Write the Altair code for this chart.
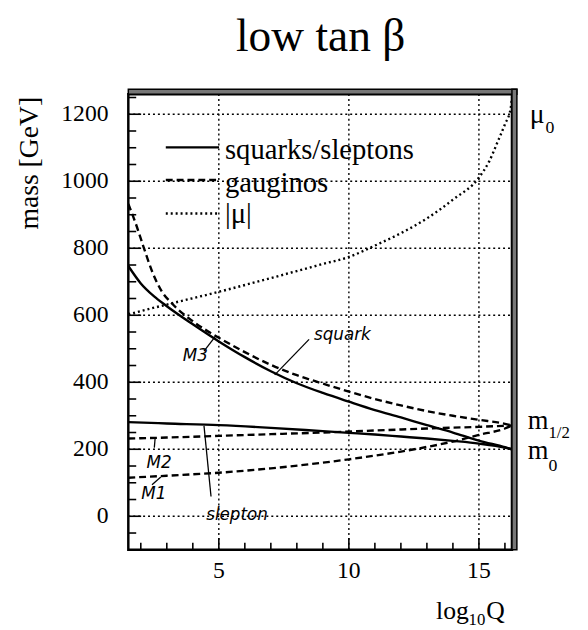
import altair as alt
import pandas as pd

# ---------------- data ----------------
x_squark = [1.52, 2.0, 2.5, 3.0, 4.0, 5.0, 6.0, 7.0, 8.0, 9.0, 10.0, 11.0, 12.0, 13.0, 14.0, 15.0, 16.0, 16.27]
y_squark = [747, 695, 657, 627, 573, 522, 475, 433, 397, 368, 342, 317, 295, 272, 250, 226, 206, 200]

x_M3 = [1.52, 1.8, 2.1, 2.45, 2.8, 3.2, 4.0, 5.0, 6.0, 7.0, 8.0, 9.0, 10.0, 11.0, 12.0, 13.0, 14.0, 15.0, 16.0, 16.27]
y_M3 = [932, 875, 805, 728, 672, 635, 582, 533, 490, 452, 421, 396, 372, 350, 331, 314, 300, 288, 276, 271]

x_slepton = [1.52, 3.0, 5.0, 7.0, 9.0, 10.0, 11.0, 12.0, 13.0, 14.0, 15.0, 16.0, 16.27]
y_slepton = [281, 277, 272, 264, 254, 249, 244, 238, 232, 225, 217, 205, 200]

x_M2 = [1.52, 3.0, 5.0, 7.0, 9.0, 11.0, 13.0, 15.0, 16.27]
y_M2 = [232, 235, 240, 245, 250, 256, 262, 267, 271]

x_M1 = [1.52, 3.0, 5.0, 7.0, 9.0, 10.0, 11.0, 12.0, 13.0, 14.0, 15.0, 16.0, 16.27]
y_M1 = [115, 121, 130, 143, 160, 170, 181, 193, 207, 223, 243, 262, 271]

x_mu = [1.52, 3.0, 5.0, 7.0, 8.0, 9.0, 10.0, 11.0, 12.0, 13.0, 14.0, 15.0, 15.4, 15.7, 16.0, 16.22, 16.27]
y_mu = [603, 632, 670, 711, 732, 753, 774, 808, 845, 889, 945, 1011, 1060, 1114, 1170, 1217, 1250]

x_ticks = [5, 10, 15]
x_tick_labels = ["5", "10", "15"]
y_ticks = [0, 200, 400, 600, 800, 1000, 1200]
y_tick_labels = ["0", "200", "400", "600", "800", "1000", "1200"]
x_minor = list(range(2, 17))
y_minor = list(range(-50, 1260, 50))

notes_text = ["M3", "squark", "M2", "M1", "slepton"]
notes_x = [4.1, 9.75, 2.7, 2.5, 5.7]
notes_y = [478, 542, 158, 67, 3]

lead_x = [4.43, 8.47, 2.52, 2.43, 4.43]
lead_y = [493, 528, 205, 94, 270]
lead_x2 = [4.89, 7.15, 2.55, 2.77, 4.70]
lead_y2 = [539, 422, 232, 117, 59]

# ---------------- layout ----------------
W, H = 389, 462
XD = [1.52, 16.27]
YD = [-100, 1260]
SERIF = "Liberation Serif"

xs = alt.Scale(domain=XD, nice=False, zero=False)
ys = alt.Scale(domain=YD, nice=False, zero=False)


def X(f):
    return alt.X(f, type="quantitative", scale=xs, axis=None)


def Y(f):
    return alt.Y(f, type="quantitative", scale=ys, axis=None)


def frame(xv, yv, name):
    return pd.DataFrame({"x": xv, "y": yv, "curve": name})


solid = pd.concat([frame(x_squark, y_squark, "squark"), frame(x_slepton, y_slepton, "slepton")])
dashed = pd.concat([frame(x_M3, y_M3, "M3"), frame(x_M2, y_M2, "M2"), frame(x_M1, y_M1, "M1")])
dotted = frame(x_mu, y_mu, "mu")

# grid (dotted)
xgrid_df = pd.DataFrame({"v": x_ticks, "t": x_tick_labels})
ygrid_df = pd.DataFrame({"v": y_ticks, "t": y_tick_labels})
gk = dict(color="black", strokeWidth=1.4, strokeDash=[2, 3])
xgrid = alt.Chart(xgrid_df).mark_rule(**gk).encode(x=X("v"), y=alt.value(0), y2=alt.value(H))
ygrid = alt.Chart(ygrid_df).mark_rule(**gk).encode(y=Y("v"), x=alt.value(0), x2=alt.value(W))

xlab = alt.Chart(xgrid_df).mark_text(font=SERIF, fontSize=24, color="black", align="center",
                                     baseline="alphabetic").encode(
    x=X("v"), y=alt.value(H + 29), text="t:N")
ylab = alt.Chart(ygrid_df).mark_text(font=SERIF, fontSize=24, color="black", align="right",
                                     baseline="middle").encode(
    y=Y("v"), x=alt.value(-20), text="t:N")

lk = dict(color="black", strokeWidth=2.4, clip=True, interpolate="monotone")
solid_layer = alt.Chart(solid).mark_line(**lk).encode(
    x=X("x"), y=Y("y"), detail="curve:N", order="x:Q")
dashed_layer = alt.Chart(dashed).mark_line(strokeDash=[7, 4], **lk).encode(
    x=X("x"), y=Y("y"), detail="curve:N", order="x:Q")
dotted_layer = alt.Chart(dotted).mark_line(strokeDash=[2, 3], **lk).encode(
    x=X("x"), y=Y("y"), order="x:Q")

# inward ticks
yminor_df = pd.DataFrame({"v": [v for v in y_minor if v not in y_ticks]})
ymajor_df = pd.DataFrame({"v": y_ticks})
xminor_df = pd.DataFrame({"v": [v for v in x_minor if v not in x_ticks]})
xmajor_df = pd.DataFrame({"v": x_ticks})

tk = dict(color="black", strokeWidth=1.6)
ytick_minor = alt.Chart(yminor_df).mark_rule(**tk).encode(y=Y("v"), x=alt.value(0), x2=alt.value(8))
ytick_major = alt.Chart(ymajor_df).mark_rule(**tk).encode(y=Y("v"), x=alt.value(0), x2=alt.value(13))
xtick_minor = alt.Chart(xminor_df).mark_rule(**tk).encode(x=X("v"), y=alt.value(H), y2=alt.value(H - 7))
xtick_major = alt.Chart(xmajor_df).mark_rule(**tk).encode(x=X("v"), y=alt.value(H), y2=alt.value(H - 12))

one = pd.DataFrame({"a": [0]})


def txt(s, x, y, size, align="left", baseline="alphabetic", font=SERIF, angle=0, style="normal"):
    kw = dict(text=s, font=font, fontSize=size, align=align, baseline=baseline,
              color="black", fontStyle=style)
    if angle:
        kw["angle"] = angle
    return alt.Chart(one).mark_text(**kw).encode(x=alt.value(x), y=alt.value(y))


def seg(x1, x2, y, dash=None, width=2.4):
    kw = dict(color="black", strokeWidth=width)
    if dash:
        kw["strokeDash"] = dash
    return alt.Chart(one).mark_rule(**kw).encode(x=alt.value(x1), x2=alt.value(x2), y=alt.value(y))


# frame decorations (double border top / right)
top_band = alt.Chart(one).mark_rect(fill="#777777", stroke="black", strokeWidth=1.5).encode(
    x=alt.value(0), x2=alt.value(W + 5), y=alt.value(-5), y2=alt.value(0))
right_band = alt.Chart(one).mark_rect(fill="#777777", stroke="black", strokeWidth=1.5).encode(
    x=alt.value(W), x2=alt.value(W + 5), y=alt.value(-5), y2=alt.value(H))

legend = [
    seg(38, 92, 54),
    seg(38, 92, 87, dash=[7, 4]),
    seg(38, 92, 121, dash=[2, 3]),
    txt("squarks/sleptons", 98, 66, 29),
    txt("gauginos", 98, 99, 29),
    txt("|\u03bc|", 98, 131, 29),
]

labels = [
    txt("low tan \u03b2", 195, -44, 46, align="center"),
    txt("mass [GeV]", -100, 70, 28, align="center", baseline="middle", angle=270),
    txt("log", 312, 532, 26),
    txt("10", 345, 538, 17),
    txt("Q", 363, 532, 26),
    txt("\u03bc", 407, 29, 28),
    txt("0", 423, 39, 18),
    txt("m", 405, 340, 27),
    txt("1/2", 426, 349, 17),
    txt("m", 405, 370, 27),
    txt("0", 426, 382, 18),
]

notes_df = pd.DataFrame({"t": notes_text, "x": notes_x, "y": notes_y})
notes = alt.Chart(notes_df).mark_text(font="DejaVu Sans", fontStyle="italic", fontSize=17,
                                      color="black", align="center", baseline="middle").encode(
    x=X("x"), y=Y("y"), text="t:N")
lead_df = pd.DataFrame({"x": lead_x, "y": lead_y, "x2": lead_x2, "y2": lead_y2})
leads = alt.Chart(lead_df).mark_rule(color="black", strokeWidth=1.3).encode(
    x=X("x"), y=Y("y"), x2="x2:Q", y2="y2:Q")

chart = alt.layer(
    xgrid, ygrid, xlab, ylab,
    solid_layer, dashed_layer, dotted_layer,
    ytick_minor, ytick_major, xtick_minor, xtick_major,
    top_band, right_band, leads, notes, *legend, *labels,
).properties(
    width=W, height=H,
    autosize=alt.AutoSizeParams(type="none"),
    padding={"left": 122, "top": 83, "right": 69, "bottom": 77},
).configure_view(stroke="black", strokeWidth=2.5)

chart.save("out.html", embed_options={"renderer": "svg", "actions": False})
